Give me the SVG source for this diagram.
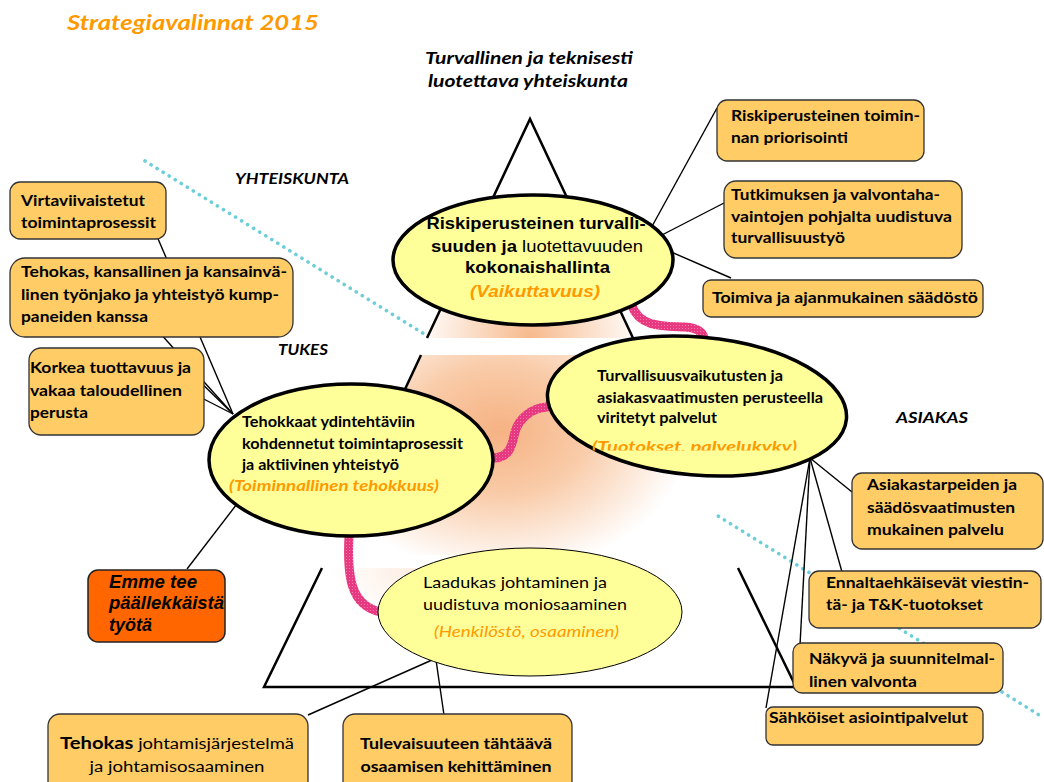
<svg xmlns="http://www.w3.org/2000/svg" width="1044" height="782" viewBox="0 0 1044 782">
<style>
text{font-family:Lato,"Liberation Sans",sans-serif;fill:#000}
.box{fill:#FFCC66;stroke:#333;stroke-width:1.3}
.b{font-weight:bold;font-size:16px}
.e{font-weight:bold;font-size:14.5px}
.ar{font-family:"Liberation Sans",Arial,sans-serif}
.ell{fill:#FFFF99;stroke:#000;stroke-width:3.5}
.ln{stroke:#000;stroke-width:1.4;fill:none}
.tri{stroke:#000;stroke-width:2.5;fill:none}
.pink{fill:none;stroke:url(#pk);stroke-width:9;stroke-linecap:round}
.or{fill:#FF9900}
.lab{font-weight:bold;font-style:italic}
.dot{stroke:#6CCFD8;stroke-width:3.6;stroke-dasharray:0.1 7;stroke-linecap:round;fill:none}
</style>
<defs>
<pattern id="pk" width="3" height="3" patternUnits="userSpaceOnUse"><rect width="3" height="3" fill="#E8387F"/><rect x="1" y="1" width="1" height="1" fill="#F47DB0"/></pattern>
<radialGradient id="gTop" cx="0.5" cy="1" r="0.55"><stop offset="0" stop-color="#F7B98C"/><stop offset="0.6" stop-color="#FCE4D2"/><stop offset="1" stop-color="#FFFFFF"/></radialGradient>
<radialGradient id="gMid" gradientUnits="userSpaceOnUse" cx="500" cy="430" r="190" gradientTransform="translate(500 430) scale(1 0.75) translate(-500 -430)"><stop offset="0" stop-color="#F6B283"/><stop offset="0.45" stop-color="#F9CBA8"/><stop offset="1" stop-color="#FFFFFF"/></radialGradient>
<radialGradient id="gBot" gradientUnits="userSpaceOnUse" cx="500" cy="568" r="170" gradientTransform="translate(500 568) scale(1 0.4) translate(-500 -568)"><stop offset="0" stop-color="#FBDCC6"/><stop offset="1" stop-color="#FFFFFF"/></radialGradient>
<clipPath id="c1"><rect x="700" y="90" width="250" height="55"/></clipPath>
<clipPath id="c2"><rect x="560" y="400" width="280" height="50.5"/></clipPath>
</defs>
<rect width="1044" height="782" fill="#fff"/>

<text x="67" y="30" class="lab or" font-size="21" textLength="252" lengthAdjust="spacingAndGlyphs">Strategiavalinnat 2015</text>
<text x="425" y="64" class="lab" font-size="17.5" textLength="208" lengthAdjust="spacingAndGlyphs">Turvallinen ja teknisesti</text>
<text x="428" y="87" class="lab" font-size="17.5" textLength="200" lengthAdjust="spacingAndGlyphs">luotettava yhteiskunta</text>
<text x="235" y="184" class="lab" font-size="14.5" textLength="114" lengthAdjust="spacingAndGlyphs">YHTEISKUNTA</text>
<text x="278" y="355" class="lab" font-size="15" textLength="50" lengthAdjust="spacingAndGlyphs">TUKES</text>
<text x="896" y="423" class="lab" font-size="14.5" textLength="72" lengthAdjust="spacingAndGlyphs">ASIAKAS</text>

<g id="background">
<line class="dot" x1="145" y1="161" x2="1044" y2="718"/>
<polygon points="530,119 796,687 264,687" fill="#fff"/>
<polygon points="530,119 633,338 427,338" fill="url(#gTop)"/>
<polygon points="421,355 639,355 734,555 326,555" fill="url(#gMid)"/>
<polygon points="322,568 738,568 796,687 264,687" fill="url(#gBot)"/>
<path class="tri" d="M427,338 L530,119 L633,338 M421,355 L385,432 M639,355 L665,410 M322,568 L264,687 L796,687 L738,568"/>
</g>

<g id="connectors">
<line class="ln" x1="150" y1="220" x2="233" y2="414"/>
<line class="ln" x1="130" y1="300" x2="233" y2="414"/>
<line class="ln" x1="190" y1="372" x2="233" y2="414"/>
<line class="ln" x1="190" y1="392" x2="233" y2="414"/>
<line class="ln" x1="240" y1="500" x2="187" y2="569"/>
<line class="ln" x1="650" y1="230" x2="717" y2="108"/>
<line class="ln" x1="660" y1="236" x2="724" y2="203"/>
<line class="ln" x1="662" y1="248" x2="731" y2="278"/>
<line class="ln" x1="810" y1="458" x2="852" y2="492"/>
<line class="ln" x1="810" y1="458" x2="842" y2="572"/>
<line class="ln" x1="810" y1="458" x2="800" y2="645"/>
<line class="ln" x1="810" y1="458" x2="766" y2="708"/>
<line class="ln" x1="432" y1="660" x2="308" y2="715"/>
<line class="ln" x1="436" y1="660" x2="444" y2="715"/>
<path class="pink" d="M632,306 C640,328 665,326 685,327 C698,328 703,333 704,338"/>
<path class="pink" d="M493,458 C510,458 512,445 515,432 C519,418 532,408 547,407"/>
<path class="pink" d="M349,536 C347,575 350,606 381,612"/>
</g>

<g id="ell-top">
<ellipse class="ell" cx="533" cy="260" rx="140" ry="65"/>
<text class="ar" x="536" y="229" text-anchor="middle" font-size="16.5" font-weight="bold" textLength="219" lengthAdjust="spacingAndGlyphs">Riskiperusteinen turvalli-</text>
<text class="ar" x="537" y="252" text-anchor="middle" font-size="16.5" textLength="212" lengthAdjust="spacingAndGlyphs"><tspan font-weight="bold">suuden ja </tspan><tspan>luotettavuuden</tspan></text>
<text class="ar" x="537.5" y="273" text-anchor="middle" font-size="16.5" font-weight="bold" textLength="145" lengthAdjust="spacingAndGlyphs">kokonaishallinta</text>
<text class="ar or" x="535" y="297" text-anchor="middle" font-size="16.5" font-weight="bold" font-style="italic" textLength="130" lengthAdjust="spacingAndGlyphs">(Vaikuttavuus)</text>
</g>

<g id="ell-right">
<ellipse class="ell" cx="697" cy="406" rx="150" ry="69" transform="rotate(5 697 406)"/>
<text class="e" x="597" y="381" textLength="186" lengthAdjust="spacingAndGlyphs">Turvallisuusvaikutusten ja</text>
<text class="e" x="597" y="403" textLength="226" lengthAdjust="spacingAndGlyphs">asiakasvaatimusten perusteella</text>
<text class="e" x="597" y="423" textLength="120" lengthAdjust="spacingAndGlyphs">viritetyt palvelut</text>
<text class="e or" x="592" y="451.5" font-size="15.5" font-style="italic" textLength="205" lengthAdjust="spacingAndGlyphs" clip-path="url(#c2)">(Tuotokset, palvelukyky)</text>
</g>

<g id="ell-left">
<ellipse class="ell" cx="351" cy="460" rx="142" ry="76"/>
<text class="e" x="242" y="427" textLength="173" lengthAdjust="spacingAndGlyphs">Tehokkaat ydintehtäviin</text>
<text class="e" x="242" y="449" textLength="221" lengthAdjust="spacingAndGlyphs">kohdennetut toimintaprosessit</text>
<text class="e" x="242" y="470" textLength="157" lengthAdjust="spacingAndGlyphs">ja aktiivinen yhteistyö</text>
<text class="e or" x="229" y="491" font-style="italic" textLength="210" lengthAdjust="spacingAndGlyphs">(Toiminnallinen tehokkuus)</text>
</g>

<g id="ell-bottom">
<ellipse cx="530" cy="612" rx="152" ry="64" fill="#FFFF99" stroke="#000" stroke-width="1"/>
<text x="423" y="588" font-size="16" textLength="184" lengthAdjust="spacingAndGlyphs">Laadukas johtaminen ja</text>
<text x="423" y="610" font-size="16" textLength="204" lengthAdjust="spacingAndGlyphs">uudistuva moniosaaminen</text>
<text class="or" x="434" y="637" font-size="16" font-style="italic" textLength="185" lengthAdjust="spacingAndGlyphs">(Henkilöstö, osaaminen)</text>
</g>

<g id="box-virtaviivaistetut">
<rect class="box" x="10" y="182" width="156" height="57" rx="10"/>
<text class="b" x="21" y="206" textLength="124" lengthAdjust="spacingAndGlyphs">Virtaviivaistetut</text>
<text class="b" x="21" y="228" textLength="135" lengthAdjust="spacingAndGlyphs">toimintaprosessit</text>
</g>
<g id="box-tehokas-tyonjako">
<rect class="box" x="10" y="258" width="283" height="79" rx="15"/>
<text class="b" x="21" y="277" textLength="266" lengthAdjust="spacingAndGlyphs">Tehokas, kansallinen ja kansainvä-</text>
<text class="b" x="21" y="300" textLength="258" lengthAdjust="spacingAndGlyphs">linen työnjako ja yhteistyö kump-</text>
<text class="b" x="21" y="322" textLength="127" lengthAdjust="spacingAndGlyphs">paneiden kanssa</text>
</g>
<g id="box-korkea">
<rect class="box" x="29" y="348" width="175" height="87" rx="12"/>
<text class="b" x="30" y="373" textLength="161" lengthAdjust="spacingAndGlyphs">Korkea tuottavuus ja</text>
<text class="b" x="30" y="396" textLength="152" lengthAdjust="spacingAndGlyphs">vakaa taloudellinen</text>
<text class="b" x="30" y="418" textLength="58" lengthAdjust="spacingAndGlyphs">perusta</text>
</g>
<g id="box-emme">
<rect x="88" y="570" width="137" height="72" rx="10" fill="#FF6600" stroke="#222" stroke-width="1.5"/>
<text class="ar" x="109" y="588" font-size="17.5" font-weight="bold" font-style="italic" textLength="88" lengthAdjust="spacingAndGlyphs">Emme tee</text>
<text class="ar" x="109" y="609" font-size="17.5" font-weight="bold" font-style="italic" textLength="115" lengthAdjust="spacingAndGlyphs">päällekkäistä</text>
<text class="ar" x="109" y="631" font-size="17.5" font-weight="bold" font-style="italic" textLength="43" lengthAdjust="spacingAndGlyphs">työtä</text>
</g>

<g id="box-riskiperusteinen">
<rect class="box" x="717" y="100" width="207" height="61" rx="10"/>
<text class="b" x="731" y="121" textLength="189" lengthAdjust="spacingAndGlyphs">Riskiperusteinen toimin-</text>
<text class="b" x="731" y="143" textLength="117" lengthAdjust="spacingAndGlyphs" clip-path="url(#c1)">nan priorisointi</text>
</g>
<g id="box-tutkimuksen">
<rect class="box" x="724" y="181" width="238" height="77" rx="12"/>
<text class="b" x="731" y="200" textLength="209" lengthAdjust="spacingAndGlyphs">Tutkimuksen ja valvontaha-</text>
<text class="b" x="731" y="222" textLength="221" lengthAdjust="spacingAndGlyphs">vaintojen pohjalta uudistuva</text>
<text class="b" x="731" y="243" textLength="114" lengthAdjust="spacingAndGlyphs">turvallisuustyö</text>
</g>
<g id="box-toimiva">
<rect class="box" x="703" y="280" width="280" height="37" rx="8"/>
<text class="b" x="712" y="303" textLength="266" lengthAdjust="spacingAndGlyphs">Toimiva ja ajanmukainen säädöstö</text>
</g>

<g id="box-asiakastarpeiden">
<rect class="box" x="852" y="473" width="191" height="76" rx="10"/>
<text class="b" x="867" y="490" textLength="150" lengthAdjust="spacingAndGlyphs">Asiakastarpeiden ja</text>
<text class="b" x="867" y="513" textLength="148" lengthAdjust="spacingAndGlyphs">säädösvaatimusten</text>
<text class="b" x="867" y="535" textLength="137" lengthAdjust="spacingAndGlyphs">mukainen palvelu</text>
</g>
<g id="box-ennalta">
<rect class="box" x="809" y="571" width="232" height="57" rx="10"/>
<text class="b" x="826" y="588" textLength="203" lengthAdjust="spacingAndGlyphs">Ennaltaehkäisevät viestin-</text>
<text class="b" x="826" y="610" textLength="157" lengthAdjust="spacingAndGlyphs">tä- ja T&amp;K-tuotokset</text>
</g>
<g id="box-nakyva">
<rect class="box" x="793" y="643" width="210" height="50" rx="9"/>
<text class="b" x="809" y="664" textLength="186" lengthAdjust="spacingAndGlyphs">Näkyvä ja suunnitelmal-</text>
<text class="b" x="809" y="687" textLength="108" lengthAdjust="spacingAndGlyphs">linen valvonta</text>
</g>
<g id="box-sahkoiset">
<rect class="box" x="766" y="707" width="217" height="38" rx="7"/>
<text class="b" x="769" y="723" textLength="199" lengthAdjust="spacingAndGlyphs">Sähköiset asiointipalvelut</text>
</g>

<g id="box-johtamis">
<rect class="box" x="48" y="714" width="260" height="82" rx="12"/>
<text x="177" y="749" text-anchor="middle" font-size="15.5" textLength="234" lengthAdjust="spacingAndGlyphs"><tspan font-weight="bold" font-size="17">Tehokas</tspan> johtamisjärjestelmä</text>
<text x="177" y="772" text-anchor="middle" font-size="15.5" textLength="175" lengthAdjust="spacingAndGlyphs">ja johtamisosaaminen</text>
</g>
<g id="box-tulevaisuuteen">
<rect class="box" x="343" y="714" width="229" height="82" rx="12"/>
<text class="b" x="456" y="749" text-anchor="middle" font-size="15.5" textLength="192" lengthAdjust="spacingAndGlyphs">Tulevaisuuteen tähtäävä</text>
<text class="b" x="456" y="772" text-anchor="middle" font-size="15.5" textLength="191" lengthAdjust="spacingAndGlyphs">osaamisen kehittäminen</text>
</g>
</svg>
